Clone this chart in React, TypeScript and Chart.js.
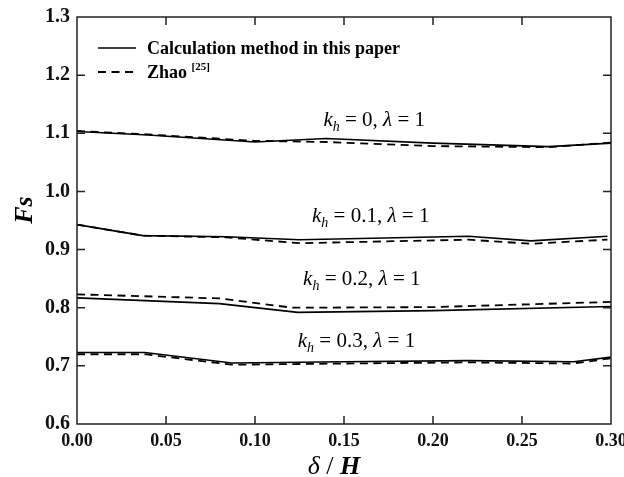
import React, { useEffect, useRef } from "react";
import { Chart, registerables } from "chart.js";

Chart.register(...registerables);

// ---- data ----
const kh0SolidX = [0, 0.04, 0.1, 0.14, 0.2, 0.265, 0.3];
const kh0SolidY = [1.103, 1.097, 1.085, 1.091, 1.083, 1.077, 1.083];
const kh0DashX = [0, 0.04, 0.1, 0.14, 0.2, 0.265, 0.3];
const kh0DashY = [1.104, 1.098, 1.087, 1.085, 1.078, 1.076, 1.084];

const kh1SolidX = [0, 0.037, 0.084, 0.125, 0.22, 0.255, 0.298];
const kh1SolidY = [0.943, 0.924, 0.922, 0.917, 0.923, 0.915, 0.923];
const kh1DashX = [0, 0.037, 0.084, 0.125, 0.22, 0.255, 0.298];
const kh1DashY = [0.943, 0.924, 0.921, 0.911, 0.917, 0.91, 0.917];

const kh2SolidX = [0, 0.08, 0.124, 0.2, 0.3];
const kh2SolidY = [0.817, 0.807, 0.792, 0.795, 0.802];
const kh2DashX = [0, 0.08, 0.121, 0.2, 0.3];
const kh2DashY = [0.823, 0.816, 0.8, 0.801, 0.81];

const kh3SolidX = [0, 0.038, 0.087, 0.15, 0.22, 0.279, 0.3];
const kh3SolidY = [0.723, 0.723, 0.705, 0.707, 0.709, 0.707, 0.715];
const kh3DashX = [0, 0.038, 0.087, 0.15, 0.22, 0.279, 0.3];
const kh3DashY = [0.72, 0.72, 0.702, 0.704, 0.706, 0.704, 0.713];

const seriesNames = ["Calculation method in this paper", "Zhao"];
const legendSup = "[25]";

const annotKh = ["0", "0.1", "0.2", "0.3"];
const annotX = [0.167, 0.165, 0.16, 0.157];
const annotY = [1.122, 0.957, 0.849, 0.742];

const xMin = 0, xMax = 0.3, xStep = 0.05;
const yMin = 0.6, yMax = 1.3, yStep = 0.1;

const SERIF = "'Liberation Serif', 'Times New Roman', serif";
const DASH = [8, 5.5];

function pts(xs: number[], ys: number[]) {
  return xs.map((x, i) => ({ x, y: ys[i] }));
}

const framePlugin = {
  id: "frameTicks",
  afterDraw(chart: any) {
    const { ctx, chartArea: a, scales } = chart;
    const xs = scales.x, ys = scales.y;
    ctx.save();
    ctx.strokeStyle = "#222";
    ctx.lineWidth = 1.5;
    ctx.strokeRect(a.left, a.top, a.right - a.left, a.bottom - a.top);
    const tl = 8;
    ctx.beginPath();
    xs.ticks.forEach((t: any) => {
      const px = xs.getPixelForValue(t.value);
      if (Math.abs(px - a.left) < 2 || Math.abs(px - a.right) < 2) return;
      ctx.moveTo(px, a.bottom);
      ctx.lineTo(px, a.bottom - tl);
      ctx.moveTo(px, a.top);
      ctx.lineTo(px, a.top + tl);
    });
    ys.ticks.forEach((t: any) => {
      const py = ys.getPixelForValue(t.value);
      if (Math.abs(py - a.top) < 2 || Math.abs(py - a.bottom) < 2) return;
      ctx.moveTo(a.left, py);
      ctx.lineTo(a.left + tl, py);
      ctx.moveTo(a.right, py);
      ctx.lineTo(a.right - tl, py);
    });
    ctx.stroke();

    // annotations
    ctx.fillStyle = "#000";
    ctx.textBaseline = "alphabetic";
    annotKh.forEach((kh, i) => {
      const segs = [
        { t: "k", f: `italic 21px ${SERIF}`, dy: 0 },
        { t: "h", f: `italic 14px ${SERIF}`, dy: 5 },
        { t: " = " + kh + ", ", f: `21px ${SERIF}`, dy: 0 },
        { t: "λ", f: `italic 21px ${SERIF}`, dy: 0 },
        { t: " = 1", f: `21px ${SERIF}`, dy: 0 },
      ];
      let w = 0;
      segs.forEach((s) => {
        ctx.font = s.f;
        w += ctx.measureText(s.t).width;
      });
      let x = xs.getPixelForValue(annotX[i]) - w / 2;
      const y = ys.getPixelForValue(annotY[i]) + 6;
      segs.forEach((s) => {
        ctx.font = s.f;
        ctx.fillText(s.t, x, y + s.dy);
        x += ctx.measureText(s.t).width;
      });
    });

    // legend
    const ds = chart.data.datasets;
    const lx0 = 98, lx1 = 136, ly0 = 48, ly1 = 72;
    ctx.strokeStyle = "#000";
    ctx.lineWidth = ds[0].borderWidth;
    ctx.setLineDash([]);
    ctx.beginPath();
    ctx.moveTo(lx0, ly0);
    ctx.lineTo(lx1, ly0);
    ctx.stroke();
    ctx.lineWidth = ds[1].borderWidth;
    ctx.setLineDash(ds[1].borderDash);
    ctx.beginPath();
    ctx.moveTo(lx0, ly1);
    ctx.lineTo(lx1, ly1);
    ctx.stroke();
    ctx.setLineDash([]);
    ctx.textBaseline = "middle";
    ctx.font = `bold 18px ${SERIF}`;
    ctx.fillText(seriesNames[0], 147, ly0 + 1);
    ctx.fillText(seriesNames[1], 147, ly1 + 1);
    const zw = ctx.measureText(seriesNames[1] + " ").width;
    ctx.font = `bold 11px ${SERIF}`;
    ctx.fillText(legendSup, 147 + zw, ly1 - 5);

    // axis titles
    ctx.textBaseline = "middle";
    const tSegs = [
      { t: "δ", f: `italic 26px ${SERIF}` },
      { t: " / ", f: `26px ${SERIF}` },
      { t: "H", f: `bold italic 26px ${SERIF}` },
    ];
    let tw = 0;
    tSegs.forEach((s) => { ctx.font = s.f; tw += ctx.measureText(s.t).width; });
    let tx = 334 - tw / 2;
    tSegs.forEach((s) => {
      ctx.font = s.f;
      ctx.fillText(s.t, tx, 467);
      tx += ctx.measureText(s.t).width;
    });
    ctx.save();
    ctx.translate(25, 210);
    ctx.rotate(-Math.PI / 2);
    ctx.font = `bold italic 26px ${SERIF}`;
    ctx.textAlign = "center";
    ctx.fillText("Fs", 0, 0);
    ctx.restore();
    ctx.restore();
  },
};

export default function App() {
  const ref = useRef<HTMLCanvasElement | null>(null);
  useEffect(() => {
    if (!ref.current) return;
    const solid = (xs: number[], ys: number[]) => ({
      label: seriesNames[0],
      data: pts(xs, ys),
      borderColor: "#000",
      borderWidth: 1.6,
      pointRadius: 0,
      tension: 0,
      fill: false,
    });
    const dashed = (xs: number[], ys: number[]) => ({
      label: seriesNames[1] + " " + legendSup,
      data: pts(xs, ys),
      borderColor: "#000",
      borderWidth: 1.8,
      borderDash: DASH,
      pointRadius: 0,
      tension: 0,
      fill: false,
    });
    const chart = new Chart(ref.current, {
      type: "line",
      data: {
        datasets: [
          solid(kh0SolidX, kh0SolidY),
          dashed(kh0DashX, kh0DashY),
          solid(kh1SolidX, kh1SolidY),
          dashed(kh1DashX, kh1DashY),
          solid(kh2SolidX, kh2SolidY),
          dashed(kh2DashX, kh2DashY),
          solid(kh3SolidX, kh3SolidY),
          dashed(kh3DashX, kh3DashY),
        ] as any,
      },
      options: {
        animation: false,
        responsive: false,
        layout: { padding: { left: 0, right: 13, top: 17, bottom: 0 } },
        plugins: { legend: { display: false }, tooltip: { enabled: false } },
        scales: {
          x: {
            type: "linear",
            min: xMin,
            max: xMax,
            grid: { display: false, drawTicks: false },
            border: { display: false },
            ticks: {
              stepSize: xStep,
              padding: 7,
              color: "#111",
              font: { family: SERIF, size: 18, weight: "bold" },
              callback: (v: any) => Number(v).toFixed(2),
              maxRotation: 0,
              autoSkip: false,
            },
            afterFit: (s: any) => {
              s.height = 53;
              s.paddingLeft = 0;
              s.paddingRight = 0;
            },
          },
          y: {
            type: "linear",
            min: yMin,
            max: yMax,
            grid: { display: false, drawTicks: false },
            border: { display: false },
            ticks: {
              stepSize: yStep,
              padding: 7,
              color: "#111",
              font: { family: SERIF, size: 20, weight: "bold" },
              callback: (v: any) => Number(v).toFixed(1),
              autoSkip: false,
            },
            afterFit: (s: any) => {
              s.width = 77;
              s.paddingTop = 0;
              s.paddingBottom = 0;
            },
          },
        },
      } as any,
      plugins: [framePlugin],
    });
    return () => chart.destroy();
  }, []);
  return (
    <div style={{ position: "fixed", left: 0, top: 0, width: 624, height: 477, background: "#fff" }}>
      <canvas ref={ref} width={624} height={477} />
    </div>
  );
}
